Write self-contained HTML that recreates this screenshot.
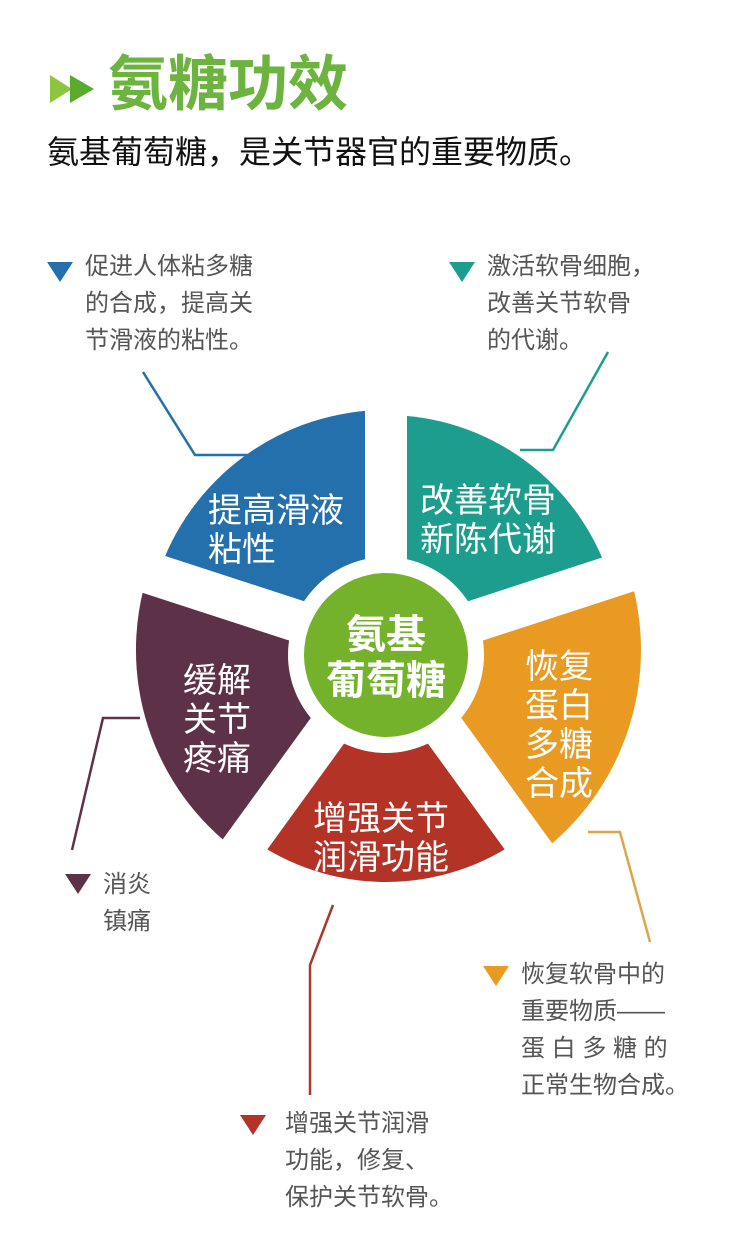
<!DOCTYPE html>
<html><head><meta charset="utf-8"><style>
body{margin:0;background:#fff;}
#p{position:relative;width:750px;height:1234px;overflow:hidden;font-family:"Liberation Sans","Noto Sans CJK SC",sans-serif;}
.t{position:absolute;white-space:nowrap;}
.d{font-size:24px;line-height:37px;color:#555;}
.s{font-size:34px;line-height:39px;color:#fff;}
</style></head><body><div id="p">
<svg width="750" height="1234" style="position:absolute;left:0;top:0">
<polygon points="50,75 72,89 50,103" fill="#8cc63f"/>
<polygon points="70,75 94,89 70,103" fill="#5aab2c"/>
<path d="M386 650 L157.7 575.8 A240 240 0 0 1 386 410 Z" fill="#2470ac"/>
<path d="M386 650 L386 415 A235 235 0 0 1 609.5 577.4 Z" fill="#1c9d8e"/>
<path d="M386 650 L628.5 571.2 A255 255 0 0 1 535.9 856.3 Z" fill="#e89a23"/>
<path d="M386 650 L522.4 837.7 A232 232 0 0 1 249.6 837.7 Z" fill="#b33426"/>
<path d="M386 650 L239.1 852.3 A250 250 0 0 1 148.2 572.7 Z" fill="#5d3148"/>
<g stroke="#fff" stroke-width="42">
<line x1="386" y1="650" x2="386" y2="375"/>
<line x1="386" y1="650" x2="647" y2="565"/>
<line x1="386" y1="650" x2="547" y2="872"/>
<line x1="386" y1="650" x2="225" y2="872"/>
<line x1="386" y1="650" x2="125" y2="565"/>
</g>
<circle cx="386" cy="655" r="98" fill="#fff"/>
<circle cx="386" cy="655" r="82" fill="#74b22b"/>
<g fill="none" stroke-width="2.5">
<polyline points="143,372 195,455 250,455" stroke="#2470ac"/>
<polyline points="608,352 553,450 520,450" stroke="#1c9d8e"/>
<polyline points="140,718 103,718 72,850" stroke="#5d3148"/>
<polyline points="588,832 620,832 650,942" stroke="#d9a64a"/>
<polyline points="333,905 310,965 310,1095" stroke="#a8392c"/>
</g>
<polygon points="47,262 73,262 60,282" fill="#2470ac"/>
<polygon points="449,262 475,262 462,282" fill="#1c9d8e"/>
<polygon points="65,874 91,874 78,894" fill="#5d3148"/>
<polygon points="483,966 509,966 496,986" fill="#e89a23"/>
<polygon points="240,1115 266,1115 253,1135" fill="#b33426"/>
</svg>
<div class="t" style="left:108px;top:50px;font-size:60px;font-weight:bold;color:#6cb33f;line-height:70px;">氨糖功效</div>
<div class="t" style="left:47px;top:131px;font-size:32px;color:#111;line-height:42px;">氨基葡萄糖，是关节器官的重要物质。</div>
<div class="t d" style="left:85px;top:248px;">促进人体粘多糖<br>的合成，提高关<br>节滑液的粘性。</div>
<div class="t d" style="left:487px;top:248px;">激活软骨细胞，<br>改善关节软骨<br>的代谢。</div>
<div class="t d" style="left:103px;top:866px;">消炎<br>镇痛</div>
<div class="t d" style="left:521px;top:956px;">恢复软骨中的<br>重要物质——<br>蛋 白 多 糖 的<br>正常生物合成。</div>
<div class="t d" style="left:285px;top:1105px;">增强关节润滑<br>功能，修复、<br>保护关节软骨。</div>
<div class="t s" style="left:208px;top:492px;">提高滑液<br>粘性</div>
<div class="t s" style="left:420px;top:482px;">改善软骨<br>新陈代谢</div>
<div class="t s" style="left:183px;top:662px;">缓解<br>关节<br>疼痛</div>
<div class="t s" style="left:525px;top:648px;">恢复<br>蛋白<br>多糖<br>合成</div>
<div class="t s" style="left:313px;top:800px;">增强关节<br>润滑功能</div>
<div class="t" style="left:386px;top:612px;transform:translateX(-50%);text-align:center;font-size:40px;line-height:46px;font-weight:bold;color:#fff;">氨基<br>葡萄糖</div>
</div></body></html>
